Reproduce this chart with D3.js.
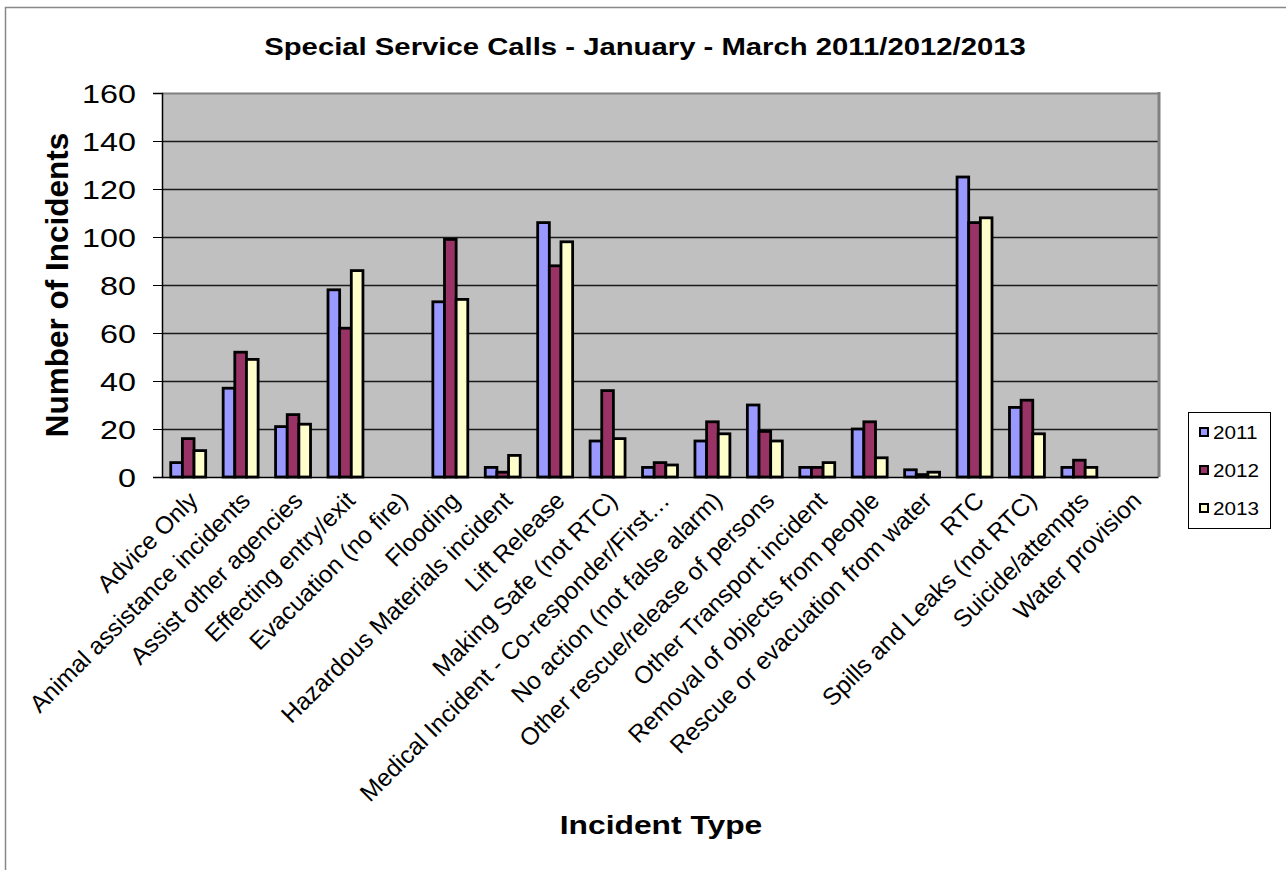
<!DOCTYPE html>
<html><head><meta charset="utf-8">
<script src="https://cdn.jsdelivr.net/npm/d3@7"></script>
<style>body{margin:0;background:#fff}svg{display:block}text{font-family:"Liberation Sans",Arial,sans-serif}</style>
</head><body>
<script>
const categories = ["Advice Only","Animal assistance incidents","Assist other agencies","Effecting entry/exit","Evacuation (no fire)","Flooding","Hazardous Materials incident","Lift Release","Making Safe (not RTC)","Medical Incident - Co-responder/First\u2026","No action (not false alarm)","Other rescue/release of persons","Other Transport incident","Removal of objects from people","Rescue or evacuation from water","RTC","Spills and Leaks (not RTC)","Suicide/attempts","Water provision"];
const seriesNames = ["2011","2012","2013"];
const values2011 = [6,37,21,78,0,73,4,106,15,4,15,30,4,20,3,125,29,4,0];
const values2012 = [16,52,26,62,0,99,2,88,36,6,23,19,4,23,1,106,32,7,0];
const values2013 = [11,49,22,86,0,74,9,98,16,5,18,15,6,8,2,108,18,4,0];
const yTicks = [0,20,40,60,80,100,120,140,160];
const colors = ["#9999FF","#993366","#FFFFCC"];
const series = [values2011, values2012, values2013];

const W = 1286, H = 870;
const svg = d3.select("body").append("svg").attr("width", W).attr("height", H);

// outer chart border
svg.append("path").attr("d", `M5.5,${H} V7.5 H${W}`).attr("fill","none").attr("stroke","#888").attr("stroke-width",1.5);

const L = 162, R = 1158, T = 93, B = 477;
const x = d3.scaleBand().domain(categories).range([L, R]).paddingInner(1/3).paddingOuter(1/6);
const xs = d3.scaleBand().domain(seriesNames).range([0, x.bandwidth()]);
const y = d3.scaleLinear().domain([0,160]).range([B, T]);

// plot background
svg.append("rect").attr("x", L).attr("y", T).attr("width", R-L).attr("height", B-T).attr("fill","#C0C0C0");
// gridlines
svg.append("g").selectAll("line").data(yTicks.filter(d=>d>0)).join("line")
  .attr("x1", L).attr("x2", R).attr("y1", d=>Math.round(y(d))+0.5).attr("y2", d=>Math.round(y(d))+0.5)
  .attr("stroke", d=>d===160?"#808080":"#1a1a1a").attr("stroke-width", d=>d===160?2:1.3);
// right border
svg.append("line").attr("x1", R+1).attr("x2", R+1).attr("y1", T-1).attr("y2", B).attr("stroke","#808080").attr("stroke-width",3);

// bars
const groups = svg.append("g").selectAll("g").data(categories).join("g")
  .attr("transform", d=>`translate(${x(d)},0)`);
groups.selectAll("rect").data((d,i)=>seriesNames.map((s,j)=>({s, v: series[j][i], j}))).join("rect")
  .attr("x", d=>xs(d.s)).attr("width", xs.bandwidth())
  .attr("y", d=>y(d.v)).attr("height", d=>B - y(d.v))
  .attr("fill", d=>colors[d.j]).attr("stroke","#000").attr("stroke-width",2.8)
  .attr("stroke-linejoin","miter")
  .attr("display", d=>d.v>0?null:"none");

// y axis
const yAxis = d3.axisLeft(y).tickValues(yTicks).tickSize(9).tickPadding(4).tickFormat(d3.format("d"));
const ya = svg.append("g").attr("transform", `translate(${L},0)`).call(yAxis);
ya.select(".domain").attr("stroke","#000").attr("stroke-width",1.5);
ya.selectAll(".tick line").attr("stroke","#000");
ya.selectAll(".tick text").remove();
ya.selectAll(".tick").append("g").attr("transform","translate(-26,9.5) scale(1.22,1)")
  .append("text").attr("text-anchor","end").attr("font-size",26.5).attr("fill","#000").text(d=>d);

// x axis
const xAxis = d3.axisBottom(x).tickSize(0).tickPadding(0);
const xa = svg.append("g").attr("transform", `translate(0,${B})`).call(xAxis);
xa.select(".domain").attr("stroke","#000").attr("stroke-width",1.5);
xa.selectAll(".tick text").attr("font-size",24.4).attr("fill","#000")
  .attr("text-anchor","end").attr("dy","0.35em").attr("y",0)
  .attr("transform","translate(5,19) rotate(-45)");

// title
svg.append("g").attr("transform","translate(645,55) scale(1.22,1)")
  .append("text").attr("text-anchor","middle").attr("font-size",24).attr("font-weight","bold").text("Special Service Calls - January - March 2011/2012/2013");
// x title
svg.append("g").attr("transform","translate(661,834) scale(1.2,1)")
  .append("text").attr("text-anchor","middle").attr("font-size",26.5).attr("font-weight","bold").text("Incident Type");
// y title
svg.append("text").attr("transform","translate(68,285) rotate(-90)").attr("text-anchor","middle")
  .attr("font-size",31.5).attr("font-weight","bold").text("Number of Incidents");

// legend
const lg = svg.append("g");
lg.append("rect").attr("x",1188.5).attr("y",412.5).attr("width",82).attr("height",116).attr("fill","#fff").attr("stroke","#000").attr("stroke-width",1);
const ly = [432, 470, 508];
seriesNames.forEach((s,i)=>{
  lg.append("rect").attr("x",1200).attr("y",ly[i]-4).attr("width",8).attr("height",8).attr("fill",colors[i]).attr("stroke","#000").attr("stroke-width",2);
  lg.append("g").attr("transform",`translate(1213,${ly[i]+6.5}) scale(1.15,1)`)
    .append("text").attr("font-size",18).text(s);
});
</script>
</body></html>
